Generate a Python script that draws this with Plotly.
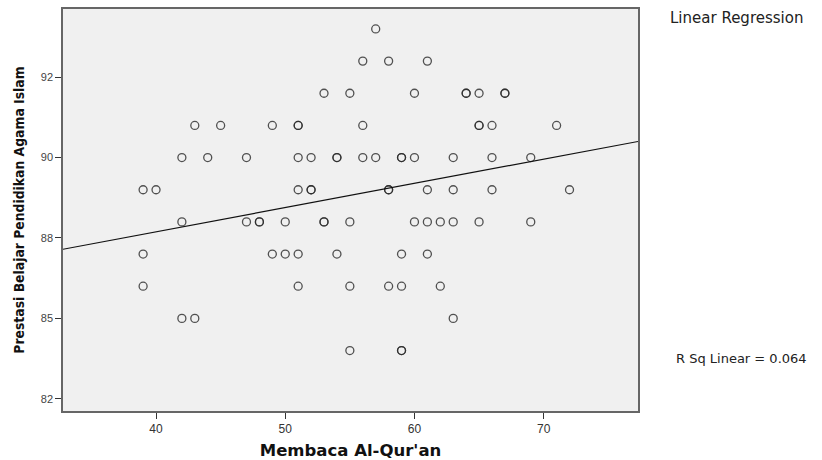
import numpy as np
import plotly.graph_objects as go

# Data: (Membaca Al-Qur'an, Prestasi) grouped by y-value row
row_94 = [57]
row_93 = [56, 58, 61]
row_92 = [53, 55, 60, 64, 64, 65, 67, 67]
row_91 = [43, 45, 49, 51, 51, 56, 65, 65, 66, 71]
row_90 = [42, 44, 47, 51, 52, 54, 54, 56, 57, 59, 59, 60, 63, 66, 69]
row_89 = [39, 40, 51, 52, 52, 58, 58, 61, 63, 66, 72]
row_88 = [42, 47, 48, 48, 50, 53, 53, 55, 60, 61, 62, 63, 65, 69]
row_87 = [39, 49, 50, 51, 54, 59, 61]
row_86 = [39, 51, 55, 58, 59, 62]
row_85 = [42, 43, 63]
row_84 = [55, 59, 59]
row_82 = [39, 59]

rows = {94: row_94, 93: row_93, 92: row_92, 91: row_91, 90: row_90, 89: row_89,
        88: row_88, 87: row_87, 86: row_86, 85: row_85, 84: row_84, 82: row_82}

x_vals = []
y_vals = []
for yv, xs in rows.items():
    for xv in xs:
        x_vals.append(xv)
        y_vals.append(yv)
x_vals = np.array(x_vals, dtype=float)
y_vals = np.array(y_vals, dtype=float)

y_tickvals = [82.5, 85, 87.5, 90, 92.5]
y_ticktext = ["82", "85", "88", "90", "92"]
x_tickvals = [40, 50, 60, 70]
x_range = [32.8, 77.3]
y_range = [82.12, 94.62]
r_sq_label = "R Sq Linear = 0.064"

slope, intercept = np.polyfit(x_vals, y_vals, 1)
line_x = np.array(x_range)
line_y = intercept + slope * line_x

fig = go.Figure()
fig.add_trace(go.Scatter(
    x=x_vals, y=y_vals, mode="markers",
    marker=dict(symbol="circle-open", size=8, color="rgba(40,40,40,0.8)",
                line=dict(width=1.3, color="rgba(40,40,40,0.8)")),
    showlegend=False, cliponaxis=False))
fig.add_trace(go.Scatter(
    x=line_x, y=line_y, mode="lines",
    line=dict(color="#111111", width=1.2), showlegend=False))

fig.update_layout(
    width=822, height=460,
    margin=dict(l=63, r=184, t=9, b=49),
    paper_bgcolor="white", plot_bgcolor="#f0f0f0",
    font=dict(family="Liberation Sans, Arial, sans-serif", color="#333333"),
    annotations=[
        dict(text="Linear Regression", xref="paper", yref="paper",
             x=1.0, xanchor="left", xshift=30, y=1.0, yanchor="middle", yshift=-9,
             showarrow=False,
             font=dict(size=15, color="#222222", family="DejaVu Sans, sans-serif")),
        dict(text=r_sq_label, xref="paper", yref="paper",
             x=1.0, xanchor="left", xshift=36, y=0.13, yanchor="middle",
             showarrow=False,
             font=dict(size=13, color="#222222", family="DejaVu Sans, sans-serif")),
    ],
)
fig.update_xaxes(
    range=x_range, tickvals=x_tickvals, showgrid=False, zeroline=False,
    showline=True, mirror=True, linecolor="#666666", linewidth=1.5,
    ticks="outside", ticklen=6, tickcolor="#333333", automargin=False,
    tickfont=dict(size=12, color="#333333"),
    title=dict(text="<b>Membaca Al-Qur'an</b>", standoff=12,
               font=dict(size=16.5, color="#111111",
                         family="DejaVu Sans, sans-serif")))
fig.update_yaxes(
    range=y_range, tickvals=y_tickvals, ticktext=y_ticktext, showgrid=False,
    zeroline=False, showline=True, mirror=True, linecolor="#666666", linewidth=1.5,
    ticks="outside", ticklen=6, tickcolor="#333333", automargin=False,
    tickfont=dict(size=11, color="#444444"),
    title=dict(text="<b>Prestasi Belajar Pendidikan Agama Islam</b>", standoff=13,
               font=dict(size=13.8, color="#111111",
                         family="Liberation Sans Narrow, DejaVu Sans Condensed, Arial Narrow, sans-serif")))

fig.write_html("out.html")
